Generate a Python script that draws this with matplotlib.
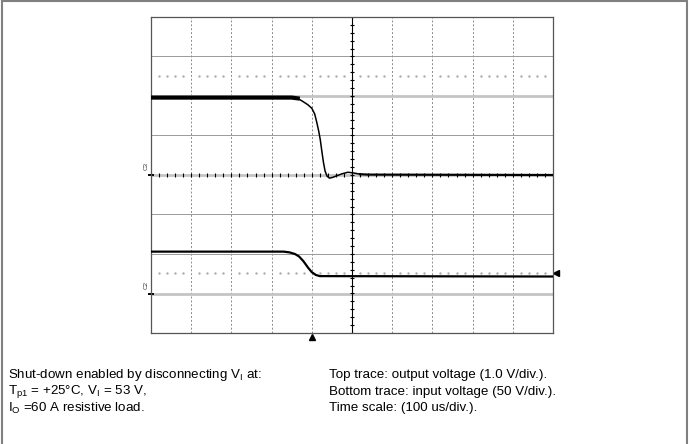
import matplotlib
matplotlib.use("Agg")
import matplotlib.pyplot as plt
import numpy as np
from matplotlib.patches import Rectangle

plt.rcParams["font.family"] = ["Liberation Sans", "DejaVu Sans"]
plt.rcParams["mathtext.default"] = "regular"

# Screen layout: 10 x 8 divisions, 100 us/div
t_range = (0, 1000)
div_range = (-4, 4)

# Top trace: output voltage (1.0 V/div), ground marker C3 at 0 div
top_t = [0, 350, 365, 378, 390, 400, 407, 412, 417, 421, 425, 429, 433, 438,
         444, 452, 462, 475, 490, 505, 520, 540, 1000]
top_v = [1.96, 1.96, 1.94, 1.86, 1.78, 1.69, 1.55, 1.35, 1.12, 0.90, 0.60,
         0.32, 0.10, -0.03, -0.08, -0.06, -0.02, 0.03, 0.07, 0.05, 0.02, 0.01,
         0.0]
top_scale = 1.0   # V/div
top_ground = 0.0  # div

# Bottom trace: input voltage (50 V/div), ground marker C2 at -3 div
bot_t = [0, 330, 345, 358, 368, 379, 391, 400, 410, 420, 1000]
bot_v = [53, 53, 52, 50, 47, 41, 32.5, 27, 23.5, 22, 21.5]
bot_scale = 50.0
bot_ground = -3.0

# dotted reference levels and markers
ref_levels = [2.5, -2.47]
trigger_t = 400
caption_left = [
    r"Shut-down enabled by disconnecting V$_{I}$ at:",
    r"T$_{p1}$ = +25°C, V$_{I}$ = 53 V,",
    r"I$_{O}$ =60 A resistive load.",
]
caption_right = [
    "Top trace: output voltage (1.0 V/div.).",
    "Bottom trace: input voltage (50 V/div.).",
    "Time scale: (100 us/div.).",
]

W, H = 690, 444
fig = plt.figure(figsize=(W / 100, H / 100), dpi=100)
ax = fig.add_axes([151 / W, 1 - 333 / H, 402 / W, 316 / H])
ax.set_xlim(*t_range)
ax.set_ylim(*div_range)
ax.set_xticks([])
ax.set_yticks([])
for s in ax.spines.values():
    s.set_color("#555555")
    s.set_linewidth(0.9)

# graticule
for x in np.arange(100, 1000, 100):
    if x == 500:
        continue
    ax.axvline(x, color="#8a8a8a", lw=0.7, ls=(0, (2, 2)), zorder=1)
for y in range(-3, 4):
    ax.axhline(y, color="#9a9a9a", lw=0.7, zorder=1)
for y in [2, top_ground, bot_ground]:
    ax.axhline(y, color="#c4c4c4", lw=2.0, zorder=1)
ax.axvline(500, color="black", lw=0.8, zorder=2)
minor = np.arange(0, 1001, 20)
ax.plot(minor, np.zeros_like(minor), ls="none", marker="|", ms=3,
        mew=0.8, color="black", zorder=2)
vminor = np.arange(-4, 4.01, 0.2)
ax.plot(np.full_like(vminor, 500), vminor, ls="none", marker="_", ms=3.5,
        mew=0.8, color="black", zorder=2)

dots = np.array([t for t in np.arange(20, 1000, 20) if t % 100 != 0])
for lvl in ref_levels:
    ax.plot(dots, np.full_like(dots, lvl, dtype=float), ls="none", marker="s",
            ms=0.7, color="#adadad", zorder=2)

# traces
tt = np.array(top_t)
ty = np.array(top_v) / top_scale + top_ground
ax.plot(tt[:3], ty[:3], color="black", lw=3.0, zorder=4)
ax.plot(tt[2:21], ty[2:21], color="black", lw=1.1, zorder=4)
ax.plot(tt[20:], ty[20:], color="black", lw=1.6, zorder=4)

bt = np.array(bot_t)
by = np.array(bot_v) / bot_scale + bot_ground
ax.plot(bt, by, color="black", lw=1.6, zorder=4)

# markers outside the grid
ax.plot([trigger_t], [-4.1], marker="^", ms=4, color="black", clip_on=False)
ax.plot([1008], [ref_levels[1]], marker="<", ms=4.5, color="black",
        clip_on=False)
for lvl, name in [(top_ground, "C3"), (bot_ground, "C2")]:
    ax.plot([-6, 4], [lvl, lvl], color="black", lw=1.4, clip_on=False)
    ax.text(-12, lvl + 0.12, name, rotation=90, fontsize=4.5, ha="center",
            va="bottom", color="#333333")

# outer frame
fig.add_artist(Rectangle((1.5 / W, -0.05), (687 - 1.5) / W, 1.05 - 1.5 / H,
                         transform=fig.transFigure, fill=False,
                         edgecolor="#808080", lw=1.5))

for i, (l, r) in enumerate(zip(caption_left, caption_right)):
    y = 1 - (375 + 16.5 * i) / H
    fig.text(8 / W, y, l, fontsize=9.6, va="center", ha="left")
    fig.text(329 / W, y, r, fontsize=9.6, va="center", ha="left")

fig.savefig("out.png", dpi=100)
